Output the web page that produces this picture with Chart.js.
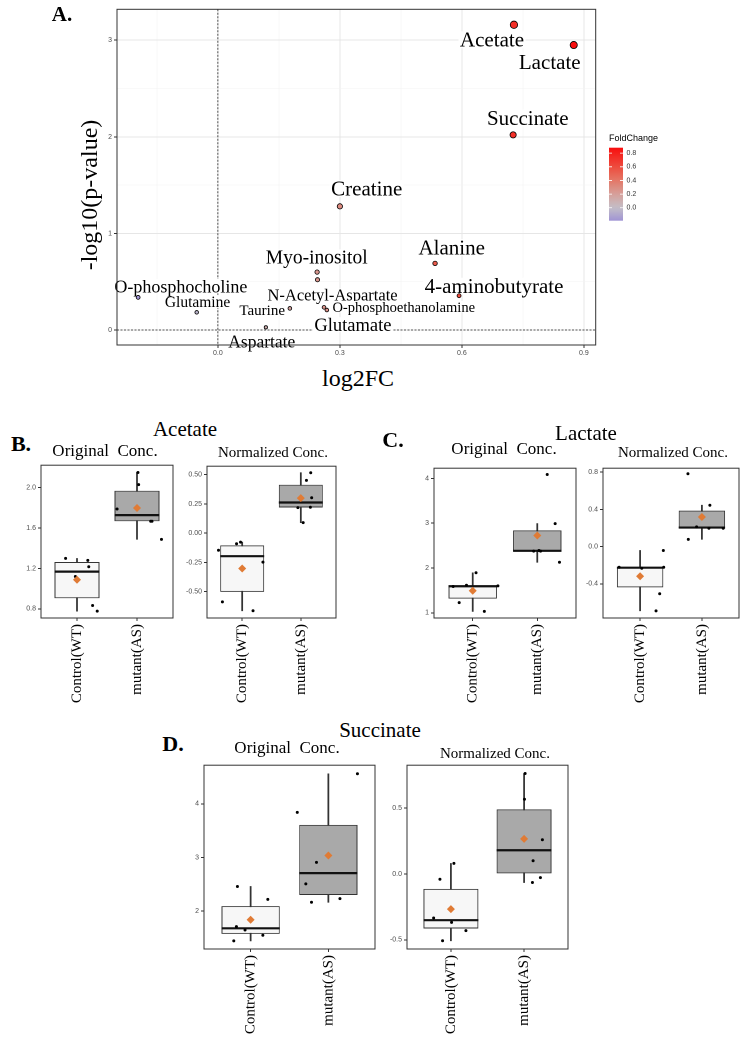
<!DOCTYPE html>
<html lang="en">
<head>
<meta charset="UTF-8">
<title>Volcano plot and box plots</title>
<script src="https://cdn.jsdelivr.net/npm/chart.js"></script>
<style>
  body { margin: 0; background: #fff; }
  #page {
    position: relative;
    width: 744px;
    height: 1038px;
    overflow: hidden;
    font-family: 'Liberation Serif', 'Times New Roman', serif;
    color: #000;
  }
  canvas { position: absolute; }
  .txt {
    position: absolute;
    transform: translate(-50%, -50%);
    white-space: nowrap;
    line-height: 1;
  }
  .tag { font-weight: bold; }
</style>
</head>
<body>
<div id="page">
  <canvas id="volcano"></canvas>
  <canvas id="bOrig"></canvas>
  <canvas id="bNorm"></canvas>
  <canvas id="cOrig"></canvas>
  <canvas id="cNorm"></canvas>
  <canvas id="dOrig"></canvas>
  <canvas id="dNorm"></canvas>

  <div class="txt tag" style="left:62px;top:14px;font-size:21px">A.</div>
  <div class="txt" style="left:89px;top:195px;font-size:24px;transform:translate(-50%,-50%) rotate(-90deg)">-log10(p-value)</div>
  <div class="txt" style="left:358px;top:378px;font-size:24px">log2FC</div>

  <div class="txt tag" style="left:21px;top:444px;font-size:22px">B.</div>
  <div class="txt" style="left:185px;top:429px;font-size:21px">Acetate</div>
  <div class="txt" style="left:105px;top:449.5px;font-size:17px">Original&nbsp; Conc.</div>
  <div class="txt" style="left:273px;top:451.5px;font-size:15px">Normalized Conc.</div>

  <div class="txt tag" style="left:393px;top:440px;font-size:22px">C.</div>
  <div class="txt" style="left:586px;top:432.5px;font-size:21px">Lactate</div>
  <div class="txt" style="left:504px;top:447.5px;font-size:17px">Original&nbsp; Conc.</div>
  <div class="txt" style="left:673px;top:452px;font-size:15px">Normalized Conc.</div>

  <div class="txt tag" style="left:173px;top:744px;font-size:22px">D.</div>
  <div class="txt" style="left:380px;top:729.5px;font-size:21px">Succinate</div>
  <div class="txt" style="left:287px;top:746.5px;font-size:17px">Original&nbsp; Conc.</div>
  <div class="txt" style="left:495px;top:753px;font-size:15px">Normalized Conc.</div>
</div>

<script>
  // ---------- Panel A: volcano plot ----------
  const metabolites = ['Acetate', 'Lactate', 'Succinate', 'Creatine', 'Alanine', '4-aminobutyrate',
    'Myo-inositol', 'N-Acetyl-Aspartate', 'O-phosphoethanolamine', 'Glutamate', 'Taurine',
    'Aspartate', 'Glutamine', 'O-phosphocholine'];
  const log2FC = [0.728, 0.875, 0.726, 0.300, 0.534, 0.593, 0.244, 0.245, 0.261, 0.268, 0.177, 0.118, -0.052, -0.196];
  const negLog10P = [3.16, 2.95, 2.02, 1.28, 0.69, 0.355, 0.60, 0.52, 0.235, 0.207, 0.224, 0.028, 0.183, 0.338];
  const xTicksA = [0, 0.3, 0.6, 0.9];
  const yTicksA = [0, 1, 2, 3];
  const legendTicks = [0.0, 0.2, 0.4, 0.6, 0.8];

  // where each text label sits (data units) and its size
  const labelX = [0.674, 0.816, 0.762, 0.366, 0.575, 0.679, 0.243, 0.282, 0.457, 0.332, 0.109, 0.108, -0.050, -0.091];
  const labelY = [3.00, 2.77, 2.19, 1.46, 0.85, 0.45, 0.75, 0.36, 0.238, 0.052, 0.207, -0.124, 0.29, 0.45];
  const labelSize = [21, 21, 21, 21, 21, 21, 19.5, 16.5, 14.5, 18.5, 15, 17.5, 15.5, 18];

  // ---------- Panels B-D: box plots ----------
  const groups = ['Control(WT)', 'mutant(AS)'];

  const acetateOrigCtrl = [1.299, 1.12, 1.279, 1.217, 0.833, 0.777];
  const acetateOrigCtrlX = [0.81, 0.973, 1.18, 1.196, 1.26, 1.337];
  const acetateOrigMut = [1.788, 2.15, 2.03, 1.667, 1.667, 1.488];
  const acetateOrigMutX = [1.668, 2.016, 2.027, 2.228, 2.25, 2.408];

  const acetateNormCtrl = [-0.146, -0.09, -0.076, -0.247, -0.587, -0.663];
  const acetateNormCtrlX = [0.596, 0.904, 0.972, 1.354, 0.663, 1.185];
  const acetateNormMut = [0.517, 0.452, 0.303, 0.222, 0.09, 0.219];
  const acetateNormMutX = [2.169, 2.096, 2.185, 2.163, 2.04, 1.95];

  const lactateOrigCtrl = [1.585, 1.614, 1.892, 1.6, 1.227, 1.03];
  const lactateOrigCtrlX = [0.697, 0.903, 1.051, 1.39, 0.79, 1.18];
  const lactateOrigMut = [4.087, 2.99, 2.375, 2.39, 2.375, 2.127];
  const lactateOrigMutX = [2.154, 2.277, 1.944, 2.026, 2.051, 2.344];

  const lactateNormCtrl = [-0.222, -0.233, -0.222, -0.042, -0.507, -0.691];
  const lactateNormCtrlX = [0.661, 1.027, 1.382, 1.376, 1.317, 1.258];
  const lactateNormMut = [0.782, 0.444, 0.211, 0.197, 0.197, 0.0775];
  const lactateNormMutX = [1.774, 2.129, 1.914, 2.113, 2.344, 1.78];

  const succinateOrigCtrl = [2.455, 2.215, 1.705, 1.643, 1.545, 1.44];
  const succinateOrigCtrlX = [0.83, 1.221, 0.817, 0.928, 1.157, 0.783];
  const succinateOrigMut = [4.56, 3.84, 2.905, 2.505, 2.228, 2.16];
  const succinateOrigMutX = [2.374, 1.6, 1.847, 1.71, 2.149, 1.783];

  const succinateNormCtrl = [0.08, -0.04, -0.335, -0.3675, -0.43, -0.5075];
  const succinateNormCtrlX = [1.041, 0.85, 0.764, 1.009, 1.205, 0.886];
  const succinateNormMut = [0.7625, 0.5675, 0.26, 0.1, -0.0275, -0.065];
  const succinateNormMutX = [2.014, 2.005, 2.25, 2.123, 2.223, 2.114];

  // ---------- colour scale ----------
  const fcStops = [
    [-0.19, [160, 148, 212]],
    [0.0, [196, 191, 200]],
    [0.2, [214, 160, 154]],
    [0.4, [228, 120, 104]],
    [0.6, [238, 76, 62]],
    [0.88, [248, 14, 14]]
  ];
  function colorFor(v) {
    if (v <= fcStops[0][0]) return 'rgb(' + fcStops[0][1].join(',') + ')';
    for (let i = 1; i < fcStops.length; i++) {
      const [v1, c1] = fcStops[i];
      const [v0, c0] = fcStops[i - 1];
      if (v <= v1) {
        const t = (v - v0) / (v1 - v0);
        const c = c0.map((a, k) => Math.round(a + (c1[k] - a) * t));
        return 'rgb(' + c.join(',') + ')';
      }
    }
    return 'rgb(' + fcStops[fcStops.length - 1][1].join(',') + ')';
  }

  function isOn(v, step) {
    return Math.abs(v / step - Math.round(v / step)) < 1e-6;
  }

  function place(id, left, top, w, h) {
    const c = document.getElementById(id);
    c.width = Math.round(w);
    c.height = Math.round(h);
    c.style.left = left + 'px';
    c.style.top = top + 'px';
    return c;
  }

  const panelBorder = {
    id: 'panelBorder',
    afterDraw(chart) {
      const a = chart.chartArea, ctx = chart.ctx;
      ctx.save();
      ctx.strokeStyle = '#333';
      ctx.lineWidth = 1;
      ctx.strokeRect(a.left, a.top, a.right - a.left, a.bottom - a.top);
      ctx.restore();
    }
  };

  const refLines = {
    id: 'refLines',
    beforeDatasetsDraw(chart) {
      const {ctx, chartArea: a, scales: {x, y}} = chart;
      ctx.save();
      ctx.strokeStyle = '#222';
      ctx.lineWidth = 0.8;
      ctx.setLineDash([2, 1.5]);
      ctx.beginPath();
      const x0 = x.getPixelForValue(0), y0 = y.getPixelForValue(0);
      ctx.moveTo(x0, a.top); ctx.lineTo(x0, a.bottom);
      ctx.moveTo(a.left, y0); ctx.lineTo(a.right, y0);
      ctx.stroke();
      ctx.restore();
    }
  };

  // labels go over the dashed lines but under the points
  const pointLabels = {
    id: 'pointLabels',
    beforeDatasetsDraw(chart) {
      const {ctx, scales: {x, y}} = chart;
      ctx.save();
      ctx.textAlign = 'center';
      ctx.textBaseline = 'middle';
      metabolites.forEach((name, i) => {
        const px = x.getPixelForValue(labelX[i]);
        const py = y.getPixelForValue(labelY[i]);
        ctx.font = labelSize[i] + 'px "Liberation Serif"';
        const w = ctx.measureText(name).width;
        ctx.fillStyle = '#fff';
        ctx.fillRect(px - w / 2 - 1.5, py - labelSize[i] * 0.42, w + 3, labelSize[i] * 0.8);
        ctx.fillStyle = '#000';
        ctx.fillText(name, px, py + 1);
      });
      ctx.restore();
    }
  };

  const fcLegend = {
    id: 'fcLegend',
    afterDraw(chart) {
      const ctx = chart.ctx;
      const x0 = 609, x1 = 623, yTop = 147.7, yBot = 220.7;
      const vTop = 0.88, vBot = -0.19;
      const yOf = v => yTop + (vTop - v) / (vTop - vBot) * (yBot - yTop);
      ctx.save();
      const g = ctx.createLinearGradient(0, yBot, 0, yTop);
      for (let k = 0; k <= 20; k++) {
        g.addColorStop(k / 20, colorFor(vBot + (vTop - vBot) * k / 20));
      }
      ctx.fillStyle = g;
      ctx.fillRect(x0, yTop, x1 - x0, yBot - yTop);
      ctx.strokeStyle = '#fff';
      ctx.lineWidth = 0.8;
      ctx.font = '7px "Liberation Sans"';
      ctx.textBaseline = 'middle';
      legendTicks.forEach(v => {
        const yy = yOf(v);
        ctx.beginPath();
        ctx.moveTo(x0, yy); ctx.lineTo(x0 + 3, yy);
        ctx.moveTo(x1 - 3, yy); ctx.lineTo(x1, yy);
        ctx.stroke();
        ctx.fillStyle = '#333';
        ctx.fillText(v.toFixed(1), 626.5, yy);
      });
      ctx.font = '9px "Liberation Sans"';
      ctx.fillStyle = '#000';
      ctx.textBaseline = 'alphabetic';
      ctx.fillText('FoldChange', 609, 141);
      ctx.restore();
    }
  };

  // ---------- volcano chart ----------
  place('volcano', 0, 0, 744, 365);
  new Chart(document.getElementById('volcano'), {
    type: 'scatter',
    data: {
      datasets: [{
        data: log2FC.map((v, i) => ({x: v, y: negLog10P[i]})),
        backgroundColor: log2FC.map(colorFor),
        borderColor: '#000',
        borderWidth: 0.8,
        pointRadius: negLog10P.map(v => Math.sqrt(2.6 + 3.5 * v))
      }]
    },
    options: {
      responsive: false,
      animation: false,
      devicePixelRatio: 2,
      events: [],
      layout: { padding: { left: 0, top: 9.3, right: 148.3, bottom: 0 } },
      plugins: { legend: { display: false }, tooltip: { enabled: false } },
      scales: {
        x: {
          type: 'linear', min: -0.248, max: 0.929,
          afterFit: s => { s.height = 20; },
          border: { display: false },
          grid: {
            color: c => isOn(c.tick.value, 0.3) ? '#e6e6e6' : '#f3f3f3',
            lineWidth: c => isOn(c.tick.value, 0.3) ? 1 : 0.6,
            tickColor: c => isOn(c.tick.value, 0.3) ? '#333' : 'rgba(0,0,0,0)',
            tickLength: 3
          },
          ticks: {
            stepSize: 0.15, includeBounds: false, autoSkip: false, maxRotation: 0,
            padding: 1, color: '#4d4d4d',
            font: { size: 7, family: 'Liberation Sans' },
            callback: v => xTicksA.some(t => Math.abs(t - v) < 1e-6) ? v.toFixed(1) : ''
          }
        },
        y: {
          type: 'linear', min: -0.155, max: 3.32,
          afterFit: s => { s.width = 117; },
          border: { display: false },
          grid: {
            color: c => isOn(c.tick.value, 1) ? '#e6e6e6' : '#f3f3f3',
            lineWidth: c => isOn(c.tick.value, 1) ? 1 : 0.6,
            tickColor: c => isOn(c.tick.value, 1) ? '#333' : 'rgba(0,0,0,0)',
            tickLength: 3
          },
          ticks: {
            stepSize: 0.5, includeBounds: false, autoSkip: false,
            padding: 2, color: '#4d4d4d',
            font: { size: 7, family: 'Liberation Sans' },
            callback: v => yTicksA.some(t => Math.abs(t - v) < 1e-6) ? String(v) : ''
          }
        }
      }
    },
    plugins: [refLines, pointLabels, panelBorder, fcLegend]
  });

  // ---------- box plot helpers ----------
  function quantile(sorted, p) {
    const pos = (sorted.length - 1) * p;
    const lo = Math.floor(pos), hi = Math.ceil(pos);
    return sorted[lo] + (sorted[hi] - sorted[lo]) * (pos - lo);
  }
  function boxStats(vals) {
    const s = [...vals].sort((a, b) => a - b);
    const q1 = quantile(s, 0.25), med = quantile(s, 0.5), q3 = quantile(s, 0.75);
    const iqr = q3 - q1;
    return {
      q1, med, q3,
      lo: Math.min(...s.filter(v => v >= q1 - 1.5 * iqr)),
      hi: Math.max(...s.filter(v => v <= q3 + 1.5 * iqr)),
      mean: s.reduce((a, b) => a + b, 0) / s.length
    };
  }

  const boxFill = ['#f7f7f7', '#a9a9a9'];
  const meanColor = '#e07b35';

  function boxChart(id, area, yMin, yMax, step, dec, ctrl, ctrlX, mut, mutX) {
    const L = area[0], T = area[1], R = area[2], B = area[3];
    place(id, L - 32, T - 4, R - L + 36, B - T + 94);
    const st = [boxStats(ctrl), boxStats(mut)];
    const pts = ctrl.map((v, i) => ({x: ctrlX[i], y: v}))
      .concat(mut.map((v, i) => ({x: mutX[i], y: v})));

    new Chart(document.getElementById(id), {
      type: 'bar',
      data: {
        datasets: [
          {
            data: st.map((s, i) => ({x: i + 1, y: [s.lo, s.hi]})),
            backgroundColor: '#333',
            grouped: false, barPercentage: 1, categoryPercentage: 1, maxBarThickness: 1.1,
            order: 4
          },
          {
            data: st.map((s, i) => ({x: i + 1, y: [s.q1, s.q3]})),
            backgroundColor: boxFill,
            borderColor: '#333', borderWidth: 1, borderSkipped: false,
            grouped: false, barPercentage: 0.75, categoryPercentage: 1,
            order: 3
          },
          {
            type: 'line', showLine: false,
            data: st.map((s, i) => ({x: i + 1, y: s.med})),
            pointStyle: 'line',
            pointRadius: c => {
              const xs = c.chart.scales.x;
              return xs.getPixelForValue(1.375) - xs.getPixelForValue(1);
            },
            pointBorderColor: '#111', pointBorderWidth: 2.2,
            order: 2
          },
          {
            type: 'line', showLine: false,
            data: pts,
            pointRadius: 1.5, pointBackgroundColor: '#000', pointBorderWidth: 0,
            order: 1
          },
          {
            type: 'line', showLine: false,
            data: st.map((s, i) => ({x: i + 1, y: s.mean})),
            pointStyle: 'rectRot', pointRadius: 4,
            pointBackgroundColor: meanColor, pointBorderWidth: 0,
            order: 0
          }
        ]
      },
      options: {
        responsive: false,
        animation: false,
        devicePixelRatio: 2,
        events: [],
        layout: { padding: { left: 0, top: 4, right: 4, bottom: 0 } },
        plugins: { legend: { display: false }, tooltip: { enabled: false } },
        scales: {
          x: {
            type: 'linear', min: 0.4, max: 2.6, offset: false,
            afterBuildTicks: s => { s.ticks = [{value: 1}, {value: 2}]; },
            afterFit: s => { s.height = 90; },
            border: { display: false },
            grid: { offset: false, drawOnChartArea: false, tickLength: 3, tickColor: '#333' },
            ticks: {
              autoSkip: false, minRotation: 90, maxRotation: 90, padding: 3,
              color: '#000', font: { size: 15, family: 'Liberation Serif' },
              callback: (v, i) => groups[i]
            }
          },
          y: {
            type: 'linear', min: yMin, max: yMax, beginAtZero: false,
            afterFit: s => { s.width = 32; },
            border: { display: false },
            grid: { drawOnChartArea: false, tickLength: 3, tickColor: '#333' },
            ticks: {
              stepSize: step, includeBounds: false, padding: 2,
              color: '#4d4d4d', font: { size: 7, family: 'Liberation Sans' },
              callback: v => v.toFixed(dec)
            }
          }
        }
      },
      plugins: [panelBorder]
    });
  }

  boxChart('bOrig', [40.7, 463.3, 172.7, 618], 0.709, 2.222, 0.4, 1,
    acetateOrigCtrl, acetateOrigCtrlX, acetateOrigMut, acetateOrigMutX);
  boxChart('bNorm', [206.7, 464, 336, 618], -0.725, 0.573, 0.25, 2,
    acetateNormCtrl, acetateNormCtrlX, acetateNormMut, acetateNormMutX);
  boxChart('cOrig', [434, 466, 576, 618], 0.883, 4.227, 1, 0,
    lactateOrigCtrl, lactateOrigCtrlX, lactateOrigMut, lactateOrigMutX);
  boxChart('cNorm', [602.5, 466, 738.5, 618], -0.768, 0.842, 0.4, 1,
    lactateNormCtrl, lactateNormCtrlX, lactateNormMut, lactateNormMutX);
  boxChart('dOrig', [204, 763.3, 375, 949.3], 1.288, 4.72, 1, 0,
    succinateOrigCtrl, succinateOrigCtrlX, succinateOrigMut, succinateOrigMutX);
  boxChart('dNorm', [407, 763.3, 568.3, 949.3], -0.57, 0.826, 0.5, 1,
    succinateNormCtrl, succinateNormCtrlX, succinateNormMut, succinateNormMutX);
</script>
</body>
</html>
